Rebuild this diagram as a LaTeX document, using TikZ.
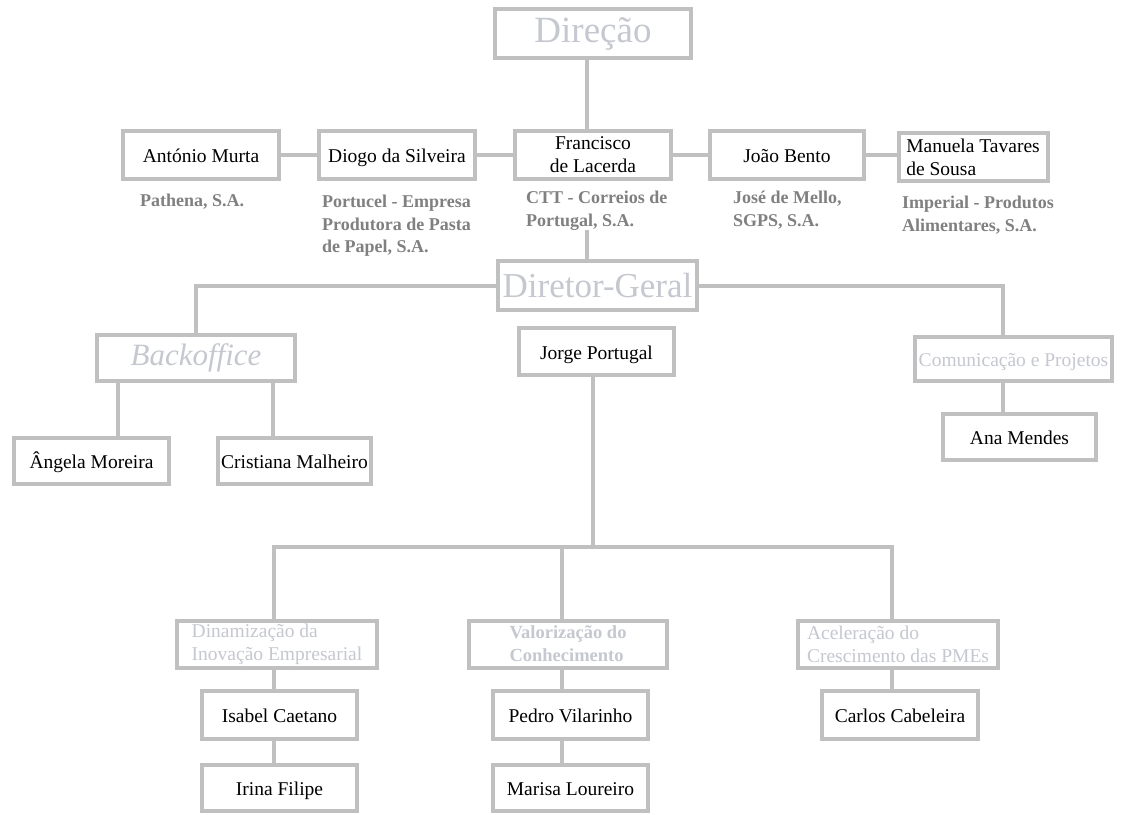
\documentclass[tikz,border=0pt]{standalone}
\usepackage{fontspec}
\setmainfont{Liberation Serif}
\usetikzlibrary{backgrounds}
\definecolor{boxgray}{RGB}{192,192,192}
\definecolor{headgray}{RGB}{198,200,208}
\definecolor{labelgray}{RGB}{128,128,128}
\tikzset{
  box/.style={draw=boxgray, line width=4pt, fill=white, inner sep=0pt, align=center,
              font=\fontsize{19.5}{23}\selectfont},
  oneline/.style={text height=16pt, text depth=1pt},
  head/.style={box, text=headgray},
  conn/.style={draw=boxgray, line width=4pt},
  firm/.style={inner sep=0pt, align=left, anchor=north west, text=labelgray,
               font=\fontsize{18}{22.5}\selectfont\bfseries},
}
\begin{document}
\begin{tikzpicture}[x=1pt,y=-1pt]
\useasboundingbox (0,0) rectangle (1121,814);

% board
\node[head, minimum width=196pt, minimum height=49pt, font=\fontsize{37}{40}\selectfont] (dir) at (593,33.5) {Direção};
\node[box, oneline, minimum width=156pt, minimum height=48pt] (am) at (201,155) {António Murta};
\node[box, oneline, minimum width=156pt, minimum height=48pt] (ds) at (397,155) {Diogo da Silveira};
\node[box, minimum width=156pt, minimum height=48pt] (fl) at (593,155) {Francisco\\de Lacerda};
\node[box, oneline, minimum width=154pt, minimum height=48pt] (jb) at (787,155) {João Bento};
\node[box, minimum width=149pt, minimum height=48pt, align=left] (mt) at (973,157) {Manuela Tavares\\de Sousa};

% companies
\node[firm] (pathena) at (140,194) {Pathena, S.A.};
\node[firm] (portucel) at (322,195) {Portucel - Empresa\\Produtora de Pasta\\de Papel, S.A.};
\node[firm] (ctt) at (526,191) {CTT - Correios de\\Portugal, S.A.};
\node[firm] (jose) at (733,191) {José de Mello,\\SGPS, S.A.};
\node[firm] (imperial) at (902,196) {Imperial - Produtos\\Alimentares, S.A.};

% management
\node[head, minimum width=199pt, minimum height=49pt, font=\fontsize{35}{38}\selectfont] (dg) at (597.5,285.5) {Diretor-Geral};
\node[box, oneline, minimum width=155pt, minimum height=47pt] (jp) at (596.5,351.5) {Jorge Portugal};
\node[head, minimum width=198pt, minimum height=46pt, font=\fontsize{31}{34}\selectfont\itshape] (bo) at (196,358) {Backoffice};
\node[box, oneline, minimum width=155pt, minimum height=46pt] (an) at (91.5,461) {Ângela Moreira};
\node[box, oneline, minimum width=153pt, minimum height=46pt] (cm) at (294.5,461) {Cristiana Malheiro};
\node[head, oneline, minimum width=197pt, minimum height=44pt, font=\fontsize{19.5}{23}\selectfont] (cp) at (1013.5,359) {Comunicação e Projetos};
\node[box, oneline, minimum width=153pt, minimum height=46pt] (amd) at (1019.5,437) {Ana Mendes};

% areas
\node[head, minimum width=200pt, minimum height=47pt, align=left] (di) at (277,644) {Dinamização da\\Inovação Empresarial};
\node[head, minimum width=198pt, minimum height=47pt, align=left, font=\fontsize{18.5}{23}\selectfont\bfseries] (vc) at (568,644) {Valorização do\\Conhecimento};
\node[head, minimum width=200pt, minimum height=47pt, align=left] (ac) at (898,644) {Aceleração do\\Crescimento das PMEs};
\node[box, oneline, minimum width=155pt, minimum height=48pt] (ic) at (279.5,715) {Isabel Caetano};
\node[box, oneline, minimum width=155pt, minimum height=46pt] (ifl) at (279.5,788) {Irina Filipe};
\node[box, oneline, minimum width=155pt, minimum height=48pt] (pv) at (570.5,715) {Pedro Vilarinho};
\node[box, oneline, minimum width=155pt, minimum height=46pt] (ml) at (570.5,788) {Marisa Loureiro};
\node[box, oneline, minimum width=156pt, minimum height=48pt] (cc) at (900,715) {Carlos Cabeleira};

% trunk positions
\coordinate (t1) at (587,0);
\coordinate (br) at (1003,0);
\coordinate (bo1) at (118,0);
\coordinate (bo2) at (273,0);
\coordinate (jt) at (593,0);
\coordinate (c1) at (274,0);
\coordinate (c2) at (562,0);
\coordinate (c3) at (892,0);
\coordinate (hub) at (593,547);

\begin{scope}[on background layer]
  \fill[white] (0,0) rectangle (1121,814);
  \draw[conn] (dir.south -| t1) -- (fl.north -| t1);
  \draw[conn] (am.east) -- (ds.west);
  \draw[conn] (ds.east) -- (fl.west);
  \draw[conn] (fl.east) -- (jb.west);
  \draw[conn] (jb.east) -- (jb.east -| mt.west);
  \draw[conn] (ctt.south -| t1) -- (dg.north -| t1);
  \draw[conn] (dg.west) -| (bo.north);
  \draw[conn] (dg.east) -| (cp.north -| br);
  \draw[conn] (bo.south -| bo1) -- (an.north -| bo1);
  \draw[conn] (bo.south -| bo2) -- (cm.north -| bo2);
  \draw[conn] (cp.south -| br) -- (amd.north -| br);
  \draw[conn] (jp.south -| jt) -- (hub);
  \draw[conn] (di.north -| c1) |- (hub) -| (ac.north -| c3);
  \draw[conn] (vc.north -| c2) -- (c2 |- hub);
  \draw[conn] (di.south -| c1) -- (ic.north -| c1);
  \draw[conn] (ic.south -| c1) -- (ifl.north -| c1);
  \draw[conn] (vc.south -| c2) -- (pv.north -| c2);
  \draw[conn] (pv.south -| c2) -- (ml.north -| c2);
  \draw[conn] (ac.south -| c3) -- (cc.north -| c3);
\end{scope}
\end{tikzpicture}
\end{document}
